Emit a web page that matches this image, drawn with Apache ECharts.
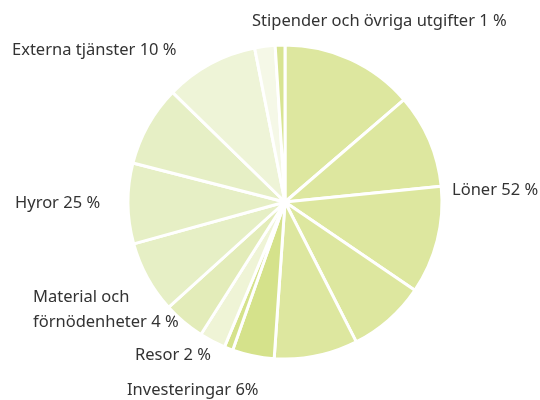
<!DOCTYPE html>
<html>
<head>
<meta charset="utf-8">
<script src="https://cdn.jsdelivr.net/npm/echarts@6/dist/echarts.min.js"></script>
<style>
  html, body { margin: 0; padding: 0; background: #fff; }
  #chart { width: 540px; height: 400px; }
</style>
</head>
<body>
<div id="chart"></div>
<script>
// slices clockwise from 12 o'clock (share of the full circle, %)
const sliceNames = ['Löner', 'Löner', 'Löner', 'Löner', 'Löner',
  'Investeringar', 'Investeringar', 'Resor', 'Material och förnödenheter',
  'Hyror', 'Hyror', 'Hyror', 'Externa tjänster', 'Externa tjänster', 'Stipender och övriga utgifter'];
const sliceValues = [13.7, 9.7, 11.1, 8.0, 8.6, 4.3, 0.9, 2.7, 4.3, 7.4, 8.3, 8.3, 9.6, 2.1, 1.0];
const sliceColors = ['#dde79f', '#dde79f', '#dde79f', '#dde79f', '#dde79f',
  '#d5e28b', '#d5e28b', '#eff4d6', '#e3ecb9', '#e6efc5', '#e6efc5', '#e6efc5', '#eef4d7', '#f5f8e7', '#d8e492'];

// category labels
const labelTexts = ['Stipender och övriga utgifter 1 %', 'Externa tjänster 10 %', 'Hyror 25 %',
  'Löner 52 %', 'Material och\nförnödenheter 4 %', 'Resor 2 %', 'Investeringar 6%'];
const labelPos = [[252, 9], [12, 38], [15, 191], [452, 178], [33, 285], [135, 343], [127, 378]];

var chart = echarts.init(document.getElementById('chart'));

var pieData = sliceValues.map(function (v, i) {
  return { name: sliceNames[i], value: v, itemStyle: { color: sliceColors[i] } };
});

var option = {
  animation: false,
  series: [{
    type: 'pie',
    center: [285, 202],
    radius: [0, 157],
    startAngle: 90,
    clockwise: true,
    label: { show: false },
    labelLine: { show: false },
    itemStyle: { borderColor: '#fff', borderWidth: 3 },
    data: pieData
  }],
  graphic: labelTexts.map(function (t, i) {
    return {
      type: 'text',
      left: labelPos[i][0],
      top: labelPos[i][1],
      style: {
        text: t,
        fill: '#333',
        font: '16.5px "Noto Sans"',
        lineHeight: 25
      }
    };
  })
};

chart.setOption(option);
</script>
</body>
</html>
